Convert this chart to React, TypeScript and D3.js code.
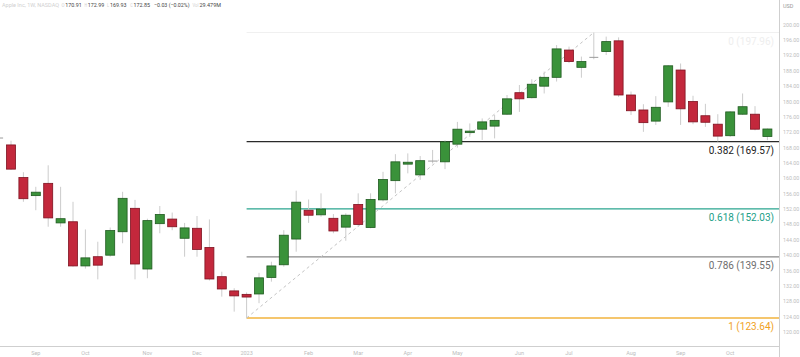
import React from "react";
import * as d3 from "d3";

const dates = [
  "2022-08-15","2022-08-22","2022-08-29","2022-09-05","2022-09-12","2022-09-19","2022-09-26",
  "2022-10-03","2022-10-10","2022-10-17","2022-10-24","2022-10-31","2022-11-07","2022-11-14",
  "2022-11-21","2022-11-28","2022-12-05","2022-12-12","2022-12-19","2022-12-26","2023-01-02",
  "2023-01-09","2023-01-16","2023-01-23","2023-01-30","2023-02-06","2023-02-13","2023-02-20",
  "2023-02-27","2023-03-06","2023-03-13","2023-03-20","2023-03-27","2023-04-03","2023-04-10",
  "2023-04-17","2023-04-24","2023-05-01","2023-05-08","2023-05-15","2023-05-22","2023-05-29",
  "2023-06-05","2023-06-12","2023-06-19","2023-06-26","2023-07-03","2023-07-10","2023-07-17",
  "2023-07-24","2023-07-31","2023-08-07","2023-08-14","2023-08-21","2023-08-28","2023-09-04",
  "2023-09-11","2023-09-18","2023-09-25","2023-10-02","2023-10-09","2023-10-16","2023-10-23",
];
const opens = [
  170.5,168.7,160.2,155.5,158.7,148.4,148.7,137.2,139.6,140.0,146.1,152.2,136.4,148.2,149.4,144.4,
  147.0,142.0,134.4,130.7,129.8,129.9,134.2,137.5,144.2,151.7,150.5,149.6,147.3,153.2,147.2,154.4,
  159.4,163.7,160.9,164.5,164.3,168.9,171.9,172.8,173.6,176.7,182.3,181.0,184.0,186.3,193.4,188.9,
  191.5,193.0,195.8,181.7,177.8,174.9,179.9,188.2,180.0,176.3,174.1,171.1,176.7,176.7,170.91,
];
const highs = [
  173.8,169.8,161.6,157.8,163.4,157.8,153.9,146.7,143.5,147.2,156.5,154.4,149.5,152.8,151.1,148.4,
  150.2,149.3,135.7,131.4,130.3,135.4,138.3,146.5,156.8,154.5,156.1,150.7,150.9,156.1,156.1,161.7,
  166.3,166.5,165.8,167.4,169.9,174.7,174.3,175.6,176.5,181.7,184.3,185.8,187.8,194.7,194.3,191.7,
  197.96,196.9,196.7,182.6,179.3,181.4,189.5,189.9,181.5,179.4,176.7,177.5,182.1,178.8,172.99,
];
const lows = [
  169.0,162.2,153.9,151.7,147.4,147.4,137.0,136.5,133.7,139.6,143.1,133.7,134.0,145.7,146.5,139.6,
  139.6,133.4,129.2,125.3,123.64,127.5,133.1,137.0,140.9,148.4,150.0,145.7,143.75,147.4,147.0,154.0,
  156.1,161.3,159.6,163.9,162.4,168.0,170.8,170.0,170.4,176.5,177.3,180.8,182.1,185.2,190.0,186.2,
  191.0,192.1,181.2,176.5,172.1,173.9,178.6,173.9,174.1,173.4,169.6,170.8,176.5,172.5,169.93,
];
const closes = [
  170.5,162.4,154.7,156.4,149.7,149.5,137.2,139.3,137.4,146.4,154.8,137.7,149.0,150.6,147.4,147.1,
  141.5,133.8,131.2,129.4,129.1,134.1,137.2,145.2,153.8,150.4,152.0,146.3,150.4,148.0,154.5,159.7,
  164.3,164.2,164.6,164.5,169.5,172.8,172.3,174.7,175.1,180.7,180.7,184.5,186.3,193.7,190.4,190.4,
  191.5,195.6,181.7,177.6,174.5,178.5,189.3,178.1,174.7,174.6,171.0,177.3,178.65,172.8,172.85,
];

const priceTicks = [200,196,192,188,184,180,176,172,168,164,160,156,152,148,144,140,136,132,128,124,120];

const fibRatios = [0, 0.382, 0.618, 0.786, 1];
const fibPrices = [197.96, 169.57, 152.03, 139.55, 123.64];
const fibColors = ["#f0f0f0", "#2a2a2a", "#2aa58f", "#8a8a8a", "#f2b33d"];
const fibTextColors = ["#eeeeee", "#222222", "#22a088", "#6e6e6e", "#f0a21e"];

const fibStartIndex = 20;
const fibEndIndex = 48;

const W = 800, H = 357;
const PR = 779, PB = 346;

export default function App() {
  const parse = d3.utcParse("%Y-%m-%d");
  const t = dates.map((d) => parse(d) as Date);
  const x = d3.scaleUtc().domain([t[0], t[t.length - 1]]).range([-1.4, 767.4]);
  const y = d3.scaleLinear().domain([120, 200]).range([332, 24.7]);
  const bw = 9;

  const monthTicks: { x: number; label: string }[] = [];
  for (let i = 1; i < t.length; i++) {
    if (t[i].getUTCMonth() !== t[i - 1].getUTCMonth()) {
      const m = t[i].getUTCMonth();
      monthTicks.push({ x: x(t[i]), label: m === 0 ? d3.utcFormat("%Y")(t[i]) : d3.utcFormat("%b")(t[i]) });
    }
  }

  const font = "Roboto, 'Noto Sans', sans-serif";
  const fx0 = x(t[fibStartIndex]);
  const hdr = (xx: number, len: number, fill: string, s: string) => (
    <text x={xx} y={7} fill={fill} textLength={len} lengthAdjust="spacingAndGlyphs">{s}</text>
  );

  return (
    <svg width={W} height={H} style={{ position: "absolute", left: 0, top: 0, display: "block", background: "#fff" }}>
      <defs>
        <clipPath id="plot">
          <rect x={0} y={0} width={PR} height={PB} />
        </clipPath>
      </defs>
      <rect x={0} y={0} width={W} height={H} fill="#fff" />
      <g clipPath="url(#plot)">
        {fibPrices.map((p, i) => (
          <line key={"fl" + i} x1={fx0} x2={PR} y1={y(p)} y2={y(p)} stroke={fibColors[i]} strokeWidth={i === 0 ? 1 : 1.3} />
        ))}
        <line
          x1={fx0}
          y1={y(lows[fibStartIndex])}
          x2={x(t[fibEndIndex])}
          y2={y(highs[fibEndIndex])}
          stroke="#c4c4c4"
          strokeWidth={1}
          strokeDasharray="3,3"
        />
        {t.map((d, i) => {
          const cx = x(d);
          const o = opens[i], c = closes[i];
          const up = c > o, doji = c === o;
          const fill = doji ? "#9a9a9a" : up ? "#3a923a" : "#c3283c";
          const stroke = doji ? "#9a9a9a" : up ? "#1f5a1f" : "#7e1220";
          const top = y(Math.max(o, c));
          const bot = y(Math.min(o, c));
          return (
            <g key={i}>
              <line x1={cx} x2={cx} y1={y(highs[i])} y2={y(lows[i])} stroke="#cccccc" strokeWidth={1} />
              {doji ? (
                <line x1={cx - bw / 2} x2={cx + bw / 2} y1={top} y2={top} stroke={stroke} strokeWidth={1} />
              ) : (
                <rect x={cx - bw / 2} y={top} width={bw} height={Math.max(1, bot - top)} fill={fill} stroke={stroke} strokeWidth={0.8} />
              )}
            </g>
          );
        })}
        {fibPrices.map((p, i) => (
          <text
            key={"ft" + i}
            x={774}
            y={y(p) + 12}
            textAnchor="end"
            fontFamily={font}
            fontSize={10}
            fill={fibTextColors[i]}
          >
            {`${fibRatios[i]} (${p.toFixed(2)})`}
          </text>
        ))}
      </g>
      <line x1={PR + 0.5} x2={PR + 0.5} y1={0} y2={H} stroke="#cfcfcf" strokeWidth={1} />
      <line x1={0} x2={PR} y1={PB + 0.5} y2={PB + 0.5} stroke="#cfcfcf" strokeWidth={1} />
      <text x={783} y={8} fontFamily={font} fontSize={5.5} fill="#9a9a9a">USD</text>
      {priceTicks.map((p) => (
        <text key={"pt" + p} x={783} y={y(p) + 2} fontFamily={font} fontSize={5.3} fill="#bdbdbd">
          {p.toFixed(2)}
        </text>
      ))}
      {monthTicks.map((m, i) => (
        <text key={"mt" + i} x={m.x} y={355} textAnchor="middle" fontFamily={font} fontSize={5.5} fill="#bdbdbd">
          {m.label}
        </text>
      ))}
      <g fontFamily={font} fontSize={5.8}>
        {hdr(2, 57, "#d0d0d0", "Apple Inc, 1W, NASDAQ")}
        {hdr(61.5, 3, "#d0d0d0", "O")}
        {hdr(65.3, 16.5, "#444", opens[62].toFixed(2))}
        {hdr(84.6, 2.5, "#d0d0d0", "H")}
        {hdr(87.8, 16.5, "#444", highs[62].toFixed(2))}
        {hdr(107, 2, "#d0d0d0", "L")}
        {hdr(110, 16.5, "#444", lows[62].toFixed(2))}
        {hdr(130.2, 2.5, "#d0d0d0", "C")}
        {hdr(133.5, 16.5, "#444", closes[62].toFixed(2))}
        {hdr(154, 35.5, "#444", "−0.03 (−0.02%)")}
        {hdr(192.5, 6, "#d0d0d0", "Vol")}
        {hdr(199.5, 21.5, "#444", "29.479M")}
      </g>
    </svg>
  );
}
